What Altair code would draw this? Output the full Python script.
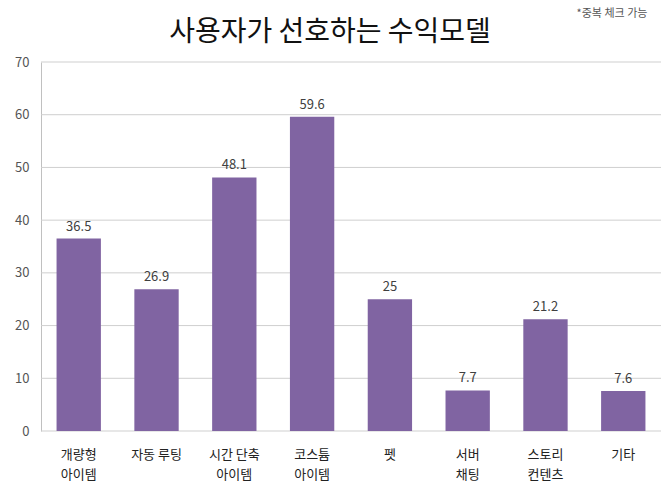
import altair as alt
import pandas as pd

categories = ["개량형\n아이템", "자동 루팅", "시간 단축\n아이템", "코스튬\n아이템", "펫", "서버\n채팅", "스토리\n컨텐츠", "기타"]
values = [36.5, 26.9, 48.1, 59.6, 25, 7.7, 21.2, 7.6]
y_ticks = [0, 10, 20, 30, 40, 50, 60, 70]
title_text = "사용자가 선호하는 수익모델"
note_text = "*중복 체크 가능"

FONT = "Noto Sans CJK KR"
df = pd.DataFrame({"cat": categories, "val": values})
grid_df = pd.DataFrame({"g": y_ticks})

yscale = alt.Scale(domain=[0, 70])
yaxis = alt.Axis(values=y_ticks, ticks=False, domainColor="#c0c0c0",
                 grid=False, labelFont=FONT, labelFontSize=13,
                 labelColor="#555555", labelPadding=12)

x = alt.X("cat:N", sort=None, title=None,
          scale=alt.Scale(paddingInner=0.43, paddingOuter=0.2),
          axis=alt.Axis(labelAngle=0, ticks=False, domain=False,
                        labelExpr="split(datum.label, '\\n')",
                        labelFont=FONT, labelFontSize=13, labelColor="#222222",
                        labelPadding=17, labelLineHeight=20, labelBaseline="top"))

grid = alt.Chart(grid_df).mark_rule(color="#cfcfcf", strokeWidth=1).encode(
    y=alt.Y("g:Q", scale=yscale, axis=yaxis, title=None),
    x=alt.value(0), x2=alt.value(620))

bars = alt.Chart(df).mark_bar(color="#8064A2").encode(
    x=x, y=alt.Y("val:Q", scale=yscale, axis=yaxis, title=None))
labels = alt.Chart(df).mark_text(dy=-12, font=FONT, fontSize=13, color="#404040").encode(
    x=alt.X("cat:N", sort=None), y=alt.Y("val:Q", scale=yscale, axis=yaxis, title=None),
    text=alt.Text("val:Q"))

note = alt.Chart(pd.DataFrame({"t": [note_text]})).mark_text(
    font=FONT, fontSize=11, color="#555555", align="center").encode(
    x=alt.value(571), y=alt.value(-48), text="t:N")

title = alt.Chart(pd.DataFrame({"t": [title_text]})).mark_text(
    font=FONT, fontSize=28, color="#111111", align="center",
    baseline="alphabetic").encode(
    x=alt.value(289), y=alt.value(-21), text="t:N")

chart = alt.layer(grid, bars, labels, note, title).properties(
    width=620, height=369,
    autosize=alt.AutoSizeParams(type="none"),
    padding={"left": 41, "top": 62, "right": 2, "bottom": 60},
).configure_view(stroke=None)

chart.save("out.html", embed_options={"renderer": "svg", "actions": False})
